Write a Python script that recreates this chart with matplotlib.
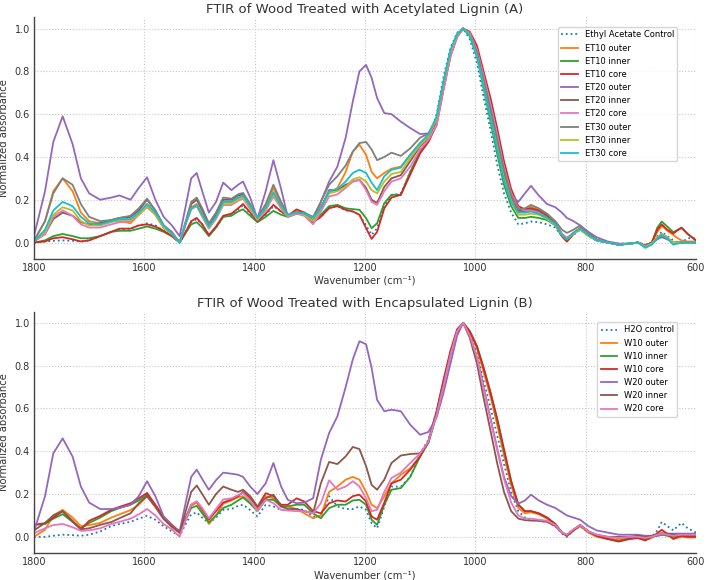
import matplotlib
matplotlib.use("Agg")
import matplotlib.pyplot as plt

# shared wavenumber grid (cm^-1)
wavenumber = [1800, 1780, 1765, 1748, 1730, 1715, 1700, 1680, 1660, 1645, 1625, 1610, 1595, 1580, 1565, 1550,
              1536, 1525, 1515, 1505, 1495, 1483, 1470, 1457, 1442, 1430,
              1421, 1408, 1395, 1380, 1366, 1352, 1340, 1324, 1310, 1294,
              1280, 1265, 1250, 1235, 1222, 1210, 1198, 1188, 1178, 1165,
              1152, 1135, 1118, 1100, 1085,
              1070, 1058, 1045, 1033, 1022,
              1010, 997, 985, 972, 960, 948, 935, 922, 910, 899,
              885, 870, 855, 843, 834, 822, 810, 795, 780, 760,
              740, 720, 705, 692, 680, 670, 662, 652, 641, 633, 626, 615, 600]

# ---- panel A: acetylated lignin ----
ea_control = [0.0, 0.005, 0.008, 0.01, 0.008, 0.005, 0.01, 0.03, 0.05, 0.06, 0.065, 0.08, 0.09, 0.08, 0.055, 0.03,
              0.0, 0.05, 0.095, 0.11, 0.085, 0.035, 0.07, 0.12, 0.13, 0.155,
              0.175, 0.135, 0.10, 0.13, 0.17, 0.145, 0.125, 0.15, 0.14, 0.10,
              0.12, 0.165, 0.17, 0.15, 0.145, 0.13, 0.08, 0.036, 0.067, 0.17,
              0.22, 0.23, 0.33, 0.43, 0.48,
              0.60, 0.77, 0.91, 0.98, 1.0,
              0.95, 0.84, 0.68, 0.52, 0.36, 0.23, 0.14, 0.085, 0.09, 0.098,
              0.095, 0.085, 0.07, 0.03, 0.01, 0.035, 0.06, 0.03, 0.01, 0.0,
              -0.005, -0.005, 0.0, -0.01, 0.0, 0.03, 0.05, 0.03, 0.01, 0.0, 0.0, 0.02, 0.02]
et10_outer = [0.005, 0.10, 0.24, 0.30, 0.24, 0.14, 0.10, 0.09, 0.10, 0.10, 0.09, 0.13, 0.18, 0.13, 0.07, 0.04,
              0.0, 0.09, 0.165, 0.18, 0.13, 0.07, 0.12, 0.19, 0.19, 0.205,
              0.22, 0.17, 0.11, 0.17, 0.255, 0.18, 0.125, 0.145, 0.14, 0.10,
              0.17, 0.23, 0.255, 0.33, 0.425, 0.457, 0.41, 0.33, 0.30, 0.325,
              0.345, 0.355, 0.41, 0.465, 0.50,
              0.58, 0.74, 0.89, 0.97, 1.0,
              0.97, 0.88, 0.75, 0.60, 0.46, 0.32, 0.21, 0.145, 0.15, 0.168,
              0.155, 0.13, 0.09, 0.04, 0.02, 0.045, 0.07, 0.04, 0.01, 0.0,
              -0.01, -0.005, 0.0, -0.015, 0.0, 0.05, 0.078, 0.055, 0.035, 0.02, 0.01, 0.005, 0.005]
et10_inner = [0.0, 0.01, 0.03, 0.04, 0.03, 0.02, 0.02, 0.03, 0.05, 0.055, 0.055, 0.065, 0.075, 0.065, 0.05, 0.03,
              0.0, 0.045, 0.085, 0.095, 0.07, 0.03, 0.07, 0.12, 0.125, 0.145,
              0.155, 0.125, 0.095, 0.12, 0.148, 0.13, 0.12, 0.135, 0.13, 0.105,
              0.13, 0.17, 0.176, 0.16, 0.156, 0.153, 0.114, 0.067, 0.09, 0.184,
              0.223, 0.223, 0.33, 0.425, 0.48,
              0.58, 0.74, 0.89, 0.97, 1.0,
              0.965, 0.87, 0.72, 0.56, 0.41, 0.27, 0.17, 0.115, 0.115, 0.12,
              0.115, 0.105, 0.08, 0.03, 0.005, 0.04, 0.065, 0.035, 0.01, 0.0,
              -0.01, -0.005, 0.0, -0.015, 0.0, 0.07, 0.098, 0.075, 0.048, 0.06, 0.07, 0.04, 0.01]
et10_core = [0.0, 0.005, 0.02, 0.025, 0.015, 0.005, 0.01, 0.03, 0.05, 0.065, 0.065, 0.08, 0.085, 0.075, 0.055, 0.03,
             0.0, 0.05, 0.10, 0.115, 0.085, 0.035, 0.075, 0.125, 0.135, 0.16,
             0.18, 0.14, 0.10, 0.135, 0.176, 0.145, 0.125, 0.155, 0.14, 0.095,
             0.12, 0.16, 0.17, 0.153, 0.145, 0.13, 0.067, 0.017, 0.05, 0.16,
             0.21, 0.223, 0.317, 0.417, 0.47,
             0.55, 0.71, 0.87, 0.96, 1.0,
             0.985, 0.92, 0.80, 0.67, 0.53, 0.38, 0.25, 0.17, 0.155, 0.16,
             0.15, 0.125, 0.085, 0.03, 0.005, 0.04, 0.065, 0.035, 0.01, 0.0,
             -0.01, -0.005, 0.0, -0.015, 0.0, 0.06, 0.085, 0.06, 0.042, 0.058, 0.068, 0.04, 0.01]
et20_outer = [0.03, 0.24, 0.47, 0.59, 0.46, 0.30, 0.23, 0.20, 0.21, 0.22, 0.20, 0.255, 0.305, 0.20, 0.12, 0.08,
              0.03, 0.17, 0.30, 0.325, 0.24, 0.14, 0.19, 0.28, 0.245, 0.27,
              0.285, 0.21, 0.11, 0.24, 0.385, 0.25, 0.12, 0.135, 0.13, 0.10,
              0.19, 0.285, 0.355, 0.49, 0.66, 0.80, 0.83, 0.77, 0.675, 0.605,
              0.60, 0.565, 0.535, 0.507, 0.51,
              0.57, 0.73, 0.88, 0.97, 1.0,
              0.97, 0.88, 0.75, 0.60, 0.46, 0.32, 0.22, 0.19, 0.23, 0.265,
              0.22, 0.18, 0.165, 0.14, 0.115, 0.10, 0.08, 0.05, 0.025, 0.005,
              -0.005, -0.005, 0.0, -0.015, -0.005, 0.015, 0.025, 0.015, 0.0, 0.0, 0.0, 0.0, 0.0]
et20_inner = [0.005, 0.04, 0.11, 0.14, 0.125, 0.095, 0.085, 0.09, 0.105, 0.115, 0.12, 0.15, 0.20, 0.15, 0.08, 0.045,
              0.0, 0.09, 0.18, 0.20, 0.15, 0.085, 0.13, 0.20, 0.20, 0.22,
              0.225, 0.17, 0.11, 0.155, 0.225, 0.165, 0.125, 0.14, 0.13, 0.095,
              0.16, 0.245, 0.245, 0.27, 0.285, 0.293, 0.255, 0.20, 0.185, 0.26,
              0.30, 0.315, 0.38, 0.45, 0.49,
              0.57, 0.73, 0.88, 0.97, 1.0,
              0.975, 0.89, 0.76, 0.62, 0.48, 0.33, 0.22, 0.15, 0.145, 0.155,
              0.145, 0.12, 0.09, 0.04, 0.02, 0.045, 0.065, 0.035, 0.01, 0.0,
              -0.01, -0.005, 0.0, -0.02, -0.005, 0.02, 0.03, 0.02, -0.005, 0.0, 0.0, 0.0, 0.0]
et20_core = [0.005, 0.04, 0.12, 0.15, 0.125, 0.085, 0.07, 0.07, 0.085, 0.095, 0.10, 0.13, 0.165, 0.13, 0.07, 0.04,
             0.0, 0.085, 0.155, 0.17, 0.12, 0.065, 0.11, 0.175, 0.175, 0.195,
             0.205, 0.155, 0.105, 0.15, 0.215, 0.16, 0.12, 0.135, 0.125, 0.085,
             0.145, 0.215, 0.225, 0.255, 0.285, 0.293, 0.245, 0.19, 0.176, 0.24,
             0.285, 0.30, 0.355, 0.435, 0.48,
             0.55, 0.71, 0.87, 0.96, 1.0,
             0.98, 0.90, 0.78, 0.64, 0.50, 0.35, 0.23, 0.16, 0.15, 0.15,
             0.14, 0.115, 0.085, 0.04, 0.02, 0.045, 0.065, 0.035, 0.01, 0.0,
             -0.01, -0.005, 0.0, -0.02, -0.005, 0.025, 0.04, 0.025, -0.005, 0.0, 0.0, 0.0, 0.0]
et30_outer = [0.01, 0.10, 0.23, 0.30, 0.27, 0.18, 0.12, 0.10, 0.105, 0.115, 0.125, 0.16, 0.205, 0.15, 0.08, 0.05,
              0.0, 0.10, 0.19, 0.21, 0.16, 0.09, 0.14, 0.21, 0.205, 0.225,
              0.232, 0.18, 0.115, 0.18, 0.27, 0.19, 0.13, 0.14, 0.14, 0.12,
              0.19, 0.27, 0.31, 0.36, 0.425, 0.465, 0.47, 0.435, 0.385, 0.40,
              0.42, 0.405, 0.44, 0.49, 0.51,
              0.58, 0.74, 0.89, 0.97, 1.0,
              0.975, 0.89, 0.76, 0.62, 0.48, 0.34, 0.22, 0.155, 0.16, 0.176,
              0.16, 0.135, 0.10, 0.06, 0.045, 0.06, 0.08, 0.045, 0.015, 0.0,
              -0.01, -0.005, 0.0, -0.02, -0.005, 0.02, 0.03, 0.02, 0.0, 0.0, 0.0, 0.0, 0.0]
et30_inner = [0.005, 0.05, 0.13, 0.165, 0.15, 0.10, 0.08, 0.08, 0.095, 0.105, 0.105, 0.13, 0.17, 0.13, 0.07, 0.04,
              0.0, 0.09, 0.16, 0.175, 0.125, 0.07, 0.115, 0.18, 0.18, 0.20,
              0.21, 0.16, 0.11, 0.155, 0.225, 0.165, 0.125, 0.14, 0.13, 0.10,
              0.16, 0.23, 0.24, 0.26, 0.295, 0.305, 0.285, 0.245, 0.23, 0.285,
              0.32, 0.33, 0.395, 0.455, 0.495,
              0.58, 0.74, 0.89, 0.97, 1.0,
              0.97, 0.87, 0.73, 0.58, 0.44, 0.30, 0.19, 0.13, 0.13, 0.135,
              0.13, 0.11, 0.08, 0.035, 0.015, 0.04, 0.06, 0.03, 0.01, 0.0,
              -0.01, -0.005, 0.0, -0.02, -0.005, 0.025, 0.04, 0.025, 0.0, 0.0, 0.0, 0.0, 0.0]
et30_core = [0.005, 0.06, 0.15, 0.19, 0.17, 0.12, 0.09, 0.085, 0.10, 0.11, 0.11, 0.14, 0.18, 0.14, 0.08, 0.04,
             0.0, 0.09, 0.16, 0.175, 0.13, 0.075, 0.12, 0.19, 0.19, 0.21,
             0.22, 0.17, 0.115, 0.16, 0.235, 0.17, 0.13, 0.14, 0.135, 0.115,
             0.16, 0.24, 0.25, 0.285, 0.325, 0.34, 0.325, 0.28, 0.245, 0.31,
             0.34, 0.35, 0.41, 0.465, 0.505,
             0.59, 0.75, 0.90, 0.975, 1.0,
             0.965, 0.87, 0.73, 0.58, 0.43, 0.29, 0.19, 0.14, 0.14, 0.145,
             0.135, 0.115, 0.085, 0.035, 0.015, 0.045, 0.065, 0.035, 0.01, 0.0,
             -0.01, -0.005, 0.0, -0.025, -0.01, 0.02, 0.035, 0.02, -0.01, -0.005, 0.0, 0.0, 0.0]

# ---- panel B: encapsulated lignin ----
h2o_control = [0.0, 0.0, 0.005, 0.01, 0.008, 0.005, 0.01, 0.025, 0.05, 0.06, 0.07, 0.085, 0.098, 0.08, 0.05, 0.025,
               0.005, 0.06, 0.105, 0.114, 0.09, 0.064, 0.09, 0.126, 0.13, 0.145,
               0.15, 0.125, 0.095, 0.15, 0.142, 0.126, 0.126, 0.13, 0.126, 0.095,
               0.095, 0.19, 0.142, 0.13, 0.13, 0.142, 0.126, 0.064, 0.04, 0.142,
               0.235, 0.235, 0.28, 0.39, 0.454,
               0.59, 0.72, 0.86, 0.96, 1.0,
               0.95, 0.86, 0.73, 0.60, 0.47, 0.34, 0.21, 0.12, 0.09, 0.08,
               0.075, 0.07, 0.05, 0.015, 0.0, 0.03, 0.05, 0.02, 0.005, -0.005,
               -0.01, -0.01, 0.0, -0.01, 0.0, 0.03, 0.07, 0.05, 0.03, 0.05, 0.065, 0.04, 0.02]
w10_outer = [0.0, 0.033, 0.10, 0.126, 0.09, 0.05, 0.055, 0.065, 0.09, 0.105, 0.125, 0.15, 0.19, 0.14, 0.085, 0.045,
             0.017, 0.08, 0.145, 0.16, 0.12, 0.06, 0.10, 0.155, 0.17, 0.185,
             0.19, 0.16, 0.13, 0.19, 0.18, 0.142, 0.142, 0.13, 0.11, 0.087,
             0.10, 0.21, 0.235, 0.267, 0.28, 0.267, 0.21, 0.15, 0.134, 0.19,
             0.25, 0.29, 0.32, 0.376, 0.446,
             0.58, 0.72, 0.86, 0.96, 1.0,
             0.96, 0.88, 0.77, 0.65, 0.52, 0.38, 0.24, 0.135, 0.11, 0.115,
             0.105, 0.085, 0.055, 0.02, 0.005, 0.03, 0.05, 0.02, 0.0, -0.01,
             -0.012, -0.005, -0.005, -0.015, -0.005, 0.01, 0.02, 0.008, -0.008, -0.005, 0.0, -0.003, -0.003]
w10_inner = [0.056, 0.06, 0.085, 0.106, 0.07, 0.04, 0.065, 0.09, 0.12, 0.135, 0.15, 0.17, 0.197, 0.145, 0.09, 0.05,
             0.025, 0.08, 0.135, 0.145, 0.11, 0.067, 0.10, 0.135, 0.15, 0.17,
             0.184, 0.155, 0.12, 0.173, 0.173, 0.142, 0.142, 0.15, 0.15, 0.11,
             0.087, 0.134, 0.15, 0.15, 0.17, 0.173, 0.15, 0.08, 0.056, 0.15,
             0.22, 0.228, 0.28, 0.376, 0.44,
             0.57, 0.71, 0.86, 0.96, 1.0,
             0.96, 0.89, 0.79, 0.67, 0.54, 0.40, 0.26, 0.15, 0.12, 0.12,
             0.11, 0.09, 0.06, 0.02, 0.005, 0.03, 0.055, 0.025, 0.005, -0.01,
             -0.02, -0.005, -0.005, -0.01, 0.0, 0.005, 0.01, 0.005, 0.0, 0.005, 0.005, 0.005, 0.005]
w10_core = [0.056, 0.064, 0.09, 0.12, 0.075, 0.035, 0.075, 0.098, 0.126, 0.14, 0.157, 0.18, 0.205, 0.15, 0.095, 0.056,
            0.025, 0.09, 0.15, 0.165, 0.13, 0.08, 0.12, 0.16, 0.175, 0.19,
            0.21, 0.18, 0.14, 0.204, 0.19, 0.15, 0.15, 0.18, 0.165, 0.12,
            0.11, 0.157, 0.17, 0.165, 0.19, 0.197, 0.165, 0.095, 0.08, 0.16,
            0.25, 0.267, 0.314, 0.376, 0.446,
            0.59, 0.73, 0.87, 0.97, 1.0,
            0.96, 0.89, 0.79, 0.67, 0.55, 0.41, 0.26, 0.15, 0.12, 0.12,
            0.11, 0.09, 0.06, 0.02, 0.005, 0.03, 0.055, 0.025, 0.005, -0.01,
            -0.022, -0.01, -0.006, -0.017, 0.0, 0.017, 0.033, 0.014, -0.01, 0.0, 0.005, 0.0, 0.0]
w20_outer = [0.025, 0.19, 0.39, 0.46, 0.375, 0.235, 0.16, 0.13, 0.13, 0.135, 0.15, 0.19, 0.26, 0.19, 0.095, 0.05,
             0.025, 0.16, 0.28, 0.314, 0.27, 0.22, 0.265, 0.30, 0.295, 0.29,
             0.28, 0.235, 0.20, 0.25, 0.345, 0.235, 0.173, 0.157, 0.16, 0.18,
             0.36, 0.485, 0.563, 0.70, 0.83, 0.914, 0.90, 0.79, 0.64, 0.587,
             0.594, 0.587, 0.524, 0.477, 0.49,
             0.56, 0.67, 0.81, 0.94, 1.0,
             0.94, 0.84, 0.70, 0.55, 0.41, 0.28, 0.19, 0.155, 0.17, 0.197,
             0.17, 0.15, 0.135, 0.115, 0.10, 0.09, 0.08, 0.05, 0.03, 0.02,
             0.01, 0.01, 0.01, 0.005, 0.005, 0.005, 0.01, 0.015, 0.015, 0.015, 0.015, 0.015, 0.015]
w20_inner = [0.03, 0.065, 0.10, 0.12, 0.07, 0.035, 0.04, 0.056, 0.069, 0.087, 0.11, 0.157, 0.19, 0.14, 0.083, 0.048,
             0.02, 0.12, 0.21, 0.24, 0.20, 0.15, 0.20, 0.235, 0.22, 0.21,
             0.22, 0.19, 0.142, 0.18, 0.197, 0.142, 0.13, 0.13, 0.12, 0.11,
             0.25, 0.35, 0.34, 0.376, 0.42, 0.41, 0.33, 0.243, 0.22, 0.267,
             0.345, 0.38, 0.387, 0.39, 0.44,
             0.58, 0.71, 0.85, 0.96, 1.0,
             0.93, 0.81, 0.65, 0.49, 0.34, 0.21, 0.12, 0.085, 0.078, 0.076,
             0.075, 0.07, 0.05, 0.02, 0.01, 0.035, 0.055, 0.025, 0.01, 0.0,
             0.0, 0.0, 0.005, 0.0, 0.005, 0.01, 0.015, 0.015, 0.01, 0.01, 0.01, 0.01, 0.01]
w20_core = [0.017, 0.04, 0.055, 0.06, 0.045, 0.028, 0.03, 0.04, 0.06, 0.07, 0.085, 0.105, 0.13, 0.10, 0.06, 0.035,
            0.0, 0.08, 0.15, 0.165, 0.135, 0.087, 0.13, 0.175, 0.18, 0.195,
            0.205, 0.17, 0.12, 0.173, 0.157, 0.126, 0.123, 0.12, 0.12, 0.11,
            0.157, 0.264, 0.22, 0.235, 0.26, 0.235, 0.18, 0.12, 0.126, 0.21,
            0.275, 0.30, 0.345, 0.39, 0.446,
            0.57, 0.70, 0.85, 0.96, 1.0,
            0.94, 0.84, 0.69, 0.54, 0.40, 0.27, 0.16, 0.10, 0.085, 0.085,
            0.08, 0.075, 0.055, 0.02, 0.01, 0.035, 0.055, 0.025, 0.01, 0.0,
            -0.005, 0.0, 0.0, -0.005, 0.0, 0.01, 0.015, 0.01, 0.005, 0.008, 0.01, 0.01, 0.01]

labels_a = ["ET10 outer", "ET10 inner", "ET10 core", "ET20 outer", "ET20 inner",
            "ET20 core", "ET30 outer", "ET30 inner", "ET30 core"]
series_a = [et10_outer, et10_inner, et10_core, et20_outer, et20_inner,
            et20_core, et30_outer, et30_inner, et30_core]
labels_b = ["W10 outer", "W10 inner", "W10 core", "W20 outer", "W20 inner", "W20 core"]
series_b = [w10_outer, w10_inner, w10_core, w20_outer, w20_inner, w20_core]

colors = ["#ff7f0e", "#2ca02c", "#d62728", "#9467bd", "#8c564b",
          "#e377c2", "#7f7f7f", "#bcbd22", "#17becf"]

fig, (ax1, ax2) = plt.subplots(2, 1, figsize=(7.08, 5.8), dpi=100)
fig.subplots_adjust(left=0.048, right=0.983, top=0.970, bottom=0.046, hspace=0.218)


def style_axes(ax, title):
    ax.set_xlim(1800, 600)
    ax.set_ylim(-0.077, 1.052)
    ax.set_xticks([1800, 1600, 1400, 1200, 1000, 800, 600])
    ax.set_yticks([0.0, 0.2, 0.4, 0.6, 0.8, 1.0])
    ax.set_yticklabels(["0.0", "0.2", "0.4", "0.6", "0.8", "1.0"])
    ax.grid(True, linestyle=":", color="#c8c8c8", linewidth=0.8)
    ax.set_axisbelow(True)
    for side in ["top", "right"]:
        ax.spines[side].set_visible(False)
    for side in ["left", "bottom"]:
        ax.spines[side].set_color("#444444")
        ax.spines[side].set_linewidth(1.0)
    ax.tick_params(length=0, pad=3, labelsize=7, colors="#333333")
    ax.set_title(title, fontsize=9.5, color="#333333", pad=3.5)
    ax.set_xlabel("Wavenumber (cm\u207b\u00b9)", fontsize=7.2, color="#333333", labelpad=2)
    ax.set_ylabel("Normalized absorbance", fontsize=7.2, color="#333333", labelpad=4)


ax1.plot(wavenumber, ea_control, color="#1f77b4", linestyle=":", linewidth=1.3, label="Ethyl Acetate Control")
for vals, lab, col in zip(series_a, labels_a, colors):
    ax1.plot(wavenumber, vals, color=col, linewidth=1.3, label=lab)
style_axes(ax1, "FTIR of Wood Treated with Acetylated Lignin (A)")
ax1.legend(loc="upper right", bbox_to_anchor=(0.972, 0.96), borderaxespad=0, fontsize=6,
           frameon=True, edgecolor="#cccccc", fancybox=True, labelspacing=0.5)

ax2.plot(wavenumber, h2o_control, color="#1f77b4", linestyle=":", linewidth=1.3, label="H2O control")
for vals, lab, col in zip(series_b, labels_b, colors):
    ax2.plot(wavenumber, vals, color=col, linewidth=1.3, label=lab)
style_axes(ax2, "FTIR of Wood Treated with Encapsulated Lignin (B)")
ax2.legend(loc="upper right", bbox_to_anchor=(0.972, 0.957), borderaxespad=0, fontsize=6,
           frameon=True, edgecolor="#cccccc", fancybox=True, labelspacing=0.5)

fig.savefig("out.png", dpi=100)
